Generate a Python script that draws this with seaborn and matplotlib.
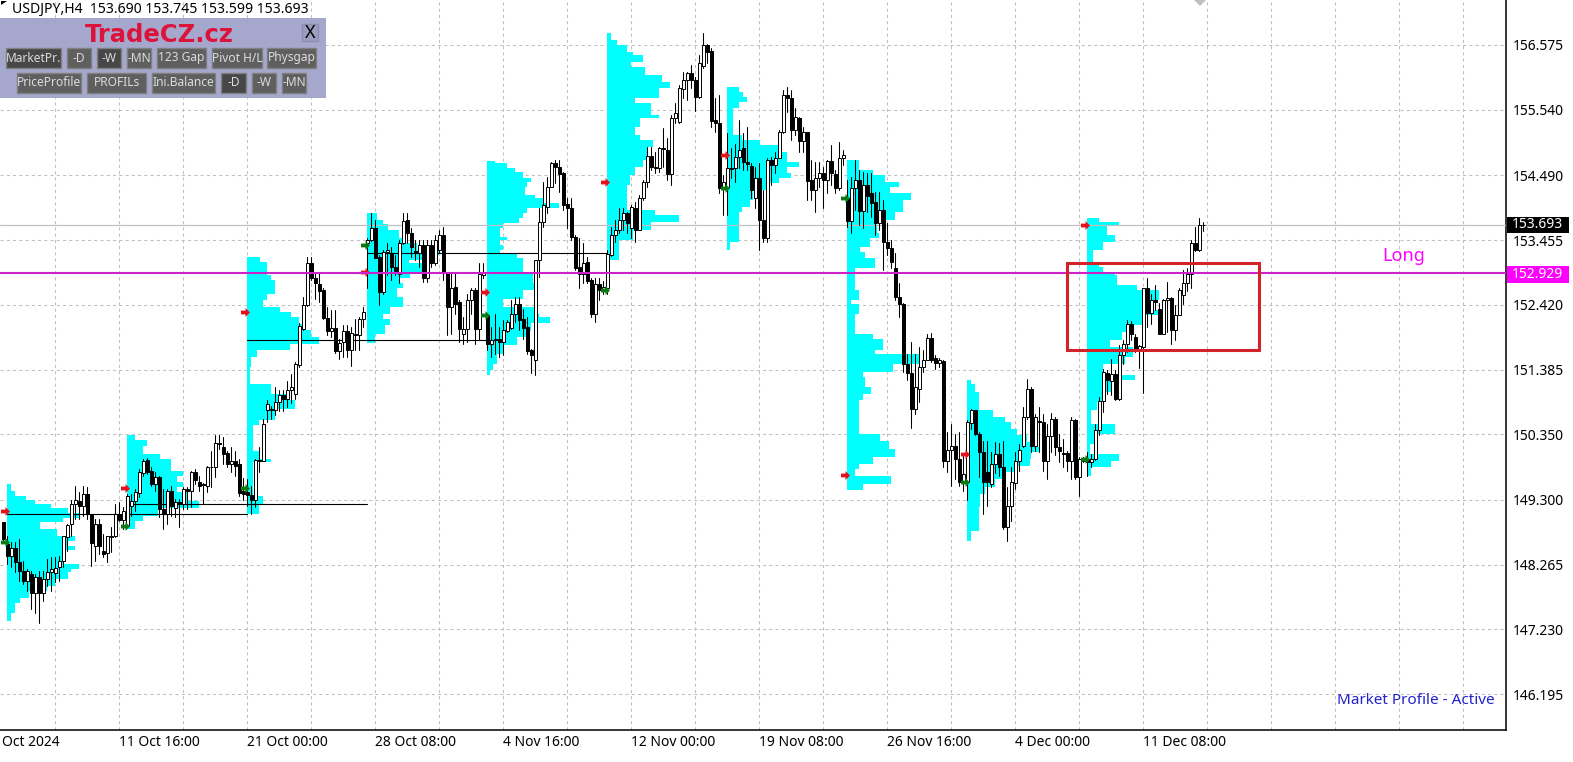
# USDJPY H4 chart with market profile blocks
import matplotlib
matplotlib.use("Agg")
import matplotlib.pyplot as plt
from matplotlib.patches import Rectangle, Polygon
import numpy as np
import pandas as pd
import seaborn as sns

# =======================
# candles, one entry per H4 bar
# =======================
opens = [
    148.94, 148.60, 148.41, 148.53, 148.30, 148.17, 148.00, 148.12, 147.81, 148.07,
    147.82, 148.04, 148.14, 148.13, 148.22, 148.33, 148.70, 148.91, 149.24, 149.29,
    149.21, 149.40, 149.07, 148.57, 148.92, 148.48, 148.45, 148.72, 148.73, 149.07,
    148.98, 148.89, 149.21, 149.28, 149.41, 149.73, 149.94, 149.76, 149.56, 149.67,
    149.16, 149.07, 149.45, 149.17, 149.26, 149.24, 149.47, 149.45, 149.75, 149.58,
    149.55, 149.53, 149.83, 149.82, 150.21, 150.15, 150.05, 149.88, 149.93, 149.87,
    149.45, 149.42, 149.38, 149.30, 149.94, 149.93, 150.73, 150.76, 150.73, 150.87,
    150.98, 150.92, 151.06, 151.00, 151.45, 152.04, 152.41, 153.09, 152.85, 152.75,
    152.65, 152.21, 152.00, 152.05, 151.68, 151.82, 152.00, 151.70, 151.96, 151.93,
    152.20, 153.40, 153.45, 153.65, 153.19, 152.62, 153.26, 153.25, 153.03, 152.91,
    153.40, 153.77, 153.56, 153.28, 153.25, 153.37, 152.85, 153.37, 153.08, 153.29,
    153.53, 152.92, 152.39, 152.71, 152.46, 151.96, 152.04, 152.49, 152.65, 152.04,
    152.90, 152.25, 151.80, 151.85, 151.88, 151.82, 152.00, 152.05, 152.28, 152.43,
    152.20, 152.06, 151.69, 151.54, 153.13, 153.74, 153.99, 154.30, 154.69, 154.62,
    154.53, 154.03, 153.96, 153.51, 153.02, 152.91, 153.10, 152.81, 152.28, 152.75,
    152.66, 152.68, 153.21, 153.53, 153.62, 153.77, 153.88, 153.64, 153.96, 153.61,
    154.12, 154.39, 154.80, 154.62, 154.61, 154.92, 154.90, 154.51, 155.41, 155.34,
    155.87, 156.02, 156.12, 156.02, 155.74, 156.24, 156.57, 156.48, 155.37, 155.33,
    154.29, 154.30, 154.60, 154.60, 154.78, 154.92, 154.70, 154.64, 154.12, 154.44,
    153.77, 153.48, 154.73, 154.65, 154.77, 155.18, 155.77, 155.73, 155.21, 155.40,
    155.04, 155.18, 154.41, 154.25, 154.45, 154.52, 154.41, 154.72, 154.51, 154.28,
    154.76, 154.12, 153.76, 154.28, 154.42, 153.92, 154.33, 154.20, 154.07, 153.72,
    153.93, 153.42, 153.33, 153.00, 152.55, 152.44, 151.48, 151.33, 150.76, 151.07,
    151.43, 151.54, 151.89, 151.57, 151.49, 151.52, 149.93, 150.10, 150.16, 149.96,
    149.59, 149.59, 150.53, 150.73, 150.35, 150.07, 149.75, 149.55, 149.88, 150.03,
    149.83, 148.86, 149.20, 149.57, 149.92, 150.17, 150.62, 151.08, 150.16, 150.56,
    150.54, 149.92, 150.32, 150.60, 150.15, 150.05, 150.05, 149.93, 150.57, 149.66,
    149.92, 149.95, 149.91, 149.96, 150.42, 150.88, 151.33, 151.20, 151.32, 150.92,
    151.61, 151.79, 152.12, 151.90, 151.72, 151.75, 152.68, 152.29, 152.50, 152.36,
    151.96, 152.50, 152.53, 152.02, 152.25, 152.58, 152.77, 152.91, 153.41, 153.29,
    153.690,
]
highs = [
    148.95, 148.73, 148.62, 148.62, 148.68, 148.33, 148.20, 148.17, 148.12, 148.17,
    148.17, 148.36, 148.38, 148.38, 148.41, 148.73, 148.92, 149.30, 149.53, 149.42,
    149.53, 149.50, 149.08, 149.00, 149.00, 148.76, 148.73, 148.86, 149.24, 149.26,
    149.18, 149.39, 149.40, 149.48, 149.80, 149.96, 149.97, 149.82, 149.74, 149.69,
    149.48, 149.48, 149.53, 149.32, 149.32, 149.50, 149.50, 149.77, 149.80, 149.69,
    149.57, 149.85, 150.09, 150.33, 150.33, 150.31, 150.09, 150.14, 150.09, 149.96,
    149.65, 149.63, 149.53, 149.96, 150.14, 150.60, 150.90, 150.80, 151.10, 151.05,
    151.05, 151.20, 151.32, 151.50, 152.13, 152.54, 153.19, 153.19, 152.94, 152.92,
    152.68, 152.39, 152.33, 152.33, 151.88, 152.09, 152.09, 152.06, 152.20, 152.22,
    152.38, 153.49, 153.88, 153.78, 153.21, 153.29, 153.40, 153.34, 153.21, 153.45,
    153.88, 153.88, 153.64, 153.46, 153.46, 153.45, 153.45, 153.45, 153.53, 153.61,
    153.66, 152.94, 152.94, 152.92, 152.49, 152.22, 152.60, 152.69, 152.68, 153.08,
    153.08, 152.28, 152.06, 152.28, 152.06, 152.17, 152.17, 152.49, 152.54, 152.54,
    152.36, 152.22, 151.72, 153.13, 153.96, 154.38, 154.46, 154.70, 154.73, 154.73,
    154.54, 154.12, 154.12, 153.53, 153.48, 153.40, 153.18, 152.84, 152.84, 152.84,
    152.80, 153.29, 153.66, 153.77, 153.96, 153.96, 153.90, 154.01, 154.06, 154.17,
    154.41, 154.94, 154.94, 154.86, 154.94, 155.24, 155.08, 155.45, 155.64, 155.93,
    156.14, 156.14, 156.25, 156.06, 156.41, 156.76, 156.59, 156.52, 155.72, 155.77,
    154.49, 155.16, 154.93, 154.99, 155.37, 155.16, 155.26, 154.68, 154.62, 154.68,
    154.25, 154.76, 154.78, 154.86, 155.21, 155.86, 155.90, 155.85, 155.56, 155.42,
    155.26, 155.18, 154.73, 154.70, 154.70, 154.62, 154.73, 154.97, 154.57, 155.02,
    154.90, 154.41, 154.46, 154.73, 154.57, 154.54, 154.52, 154.52, 154.22, 154.22,
    154.09, 153.72, 153.45, 153.24, 152.76, 152.45, 151.63, 151.82, 151.63, 151.75,
    151.69, 151.96, 151.97, 151.61, 151.57, 151.53, 150.39, 150.52, 150.36, 150.39,
    150.04, 150.57, 150.76, 150.74, 150.39, 150.25, 150.25, 150.07, 150.23, 150.21,
    150.25, 149.51, 149.83, 150.07, 150.19, 150.78, 151.24, 151.10, 150.68, 150.79,
    150.68, 150.52, 150.69, 150.63, 150.36, 150.28, 150.09, 150.62, 150.60, 149.98,
    149.98, 150.07, 150.04, 150.52, 150.95, 151.40, 151.37, 151.56, 151.37, 151.77,
    151.85, 152.18, 152.16, 151.96, 151.77, 152.69, 152.85, 152.60, 152.73, 152.45,
    152.52, 152.78, 152.55, 152.41, 152.69, 152.97, 153.00, 153.45, 153.67, 153.80,
    153.745,
]
lows = [
    148.65, 148.28, 148.22, 148.14, 148.01, 147.96, 147.85, 147.56, 147.50, 147.33,
    147.69, 147.93, 147.85, 147.98, 148.01, 148.22, 148.49, 148.73, 149.00, 149.00,
    149.05, 149.00, 148.25, 148.33, 148.44, 148.38, 148.30, 148.46, 148.70, 148.97,
    148.84, 148.88, 149.05, 149.13, 149.34, 149.69, 149.72, 149.53, 149.45, 149.02,
    148.84, 148.92, 149.05, 149.02, 148.86, 149.16, 149.16, 149.18, 149.56, 149.45,
    149.24, 149.42, 149.50, 149.66, 150.12, 149.88, 149.82, 149.74, 149.69, 149.37,
    149.30, 149.21, 149.08, 149.18, 149.74, 149.92, 150.55, 150.60, 150.65, 150.72,
    150.72, 150.78, 150.85, 150.92, 151.43, 152.01, 152.40, 152.81, 152.52, 152.46,
    152.20, 151.93, 151.90, 151.65, 151.56, 151.59, 151.59, 151.44, 151.69, 151.69,
    152.06, 152.68, 153.44, 153.16, 152.41, 152.60, 152.89, 152.81, 152.89, 152.76,
    153.39, 153.40, 153.18, 153.13, 153.02, 152.78, 152.78, 153.02, 153.05, 153.26,
    152.81, 151.93, 151.96, 152.28, 151.82, 151.80, 151.82, 152.28, 151.80, 151.85,
    152.84, 151.69, 151.59, 151.64, 151.59, 151.61, 151.98, 152.04, 152.14, 152.02,
    151.88, 151.64, 151.33, 151.29, 152.86, 153.66, 153.88, 154.30, 154.36, 154.22,
    153.93, 153.64, 153.45, 152.97, 152.69, 152.76, 152.76, 152.22, 152.14, 152.50,
    152.60, 152.60, 153.20, 153.42, 153.56, 153.61, 153.56, 153.48, 153.43, 153.61,
    154.09, 154.30, 154.57, 154.52, 154.54, 154.62, 154.41, 154.33, 155.32, 155.33,
    155.72, 155.70, 155.88, 155.52, 155.72, 156.20, 156.28, 155.26, 155.18, 154.20,
    153.85, 153.85, 154.44, 154.38, 154.60, 154.57, 154.57, 154.12, 153.96, 153.29,
    153.43, 153.43, 154.33, 154.52, 154.77, 155.17, 155.50, 155.05, 155.13, 154.86,
    154.86, 154.09, 154.09, 153.90, 154.30, 153.96, 154.20, 154.33, 154.20, 154.25,
    154.65, 153.66, 153.56, 153.93, 153.69, 153.64, 153.90, 153.83, 153.53, 153.61,
    152.97, 153.21, 153.01, 152.49, 152.23, 151.35, 151.22, 150.45, 150.68, 150.87,
    151.35, 151.53, 151.51, 151.40, 151.43, 149.83, 149.75, 149.52, 149.64, 149.53,
    149.45, 149.30, 150.44, 150.33, 149.67, 149.08, 149.21, 149.50, 149.73, 149.69,
    148.84, 148.64, 148.96, 149.48, 149.77, 150.15, 150.60, 150.07, 150.09, 150.07,
    149.77, 149.64, 150.07, 150.02, 149.91, 149.83, 149.77, 149.64, 149.64, 149.36,
    149.90, 149.69, 149.83, 149.94, 150.33, 150.71, 151.00, 150.97, 150.89, 150.89,
    151.48, 151.66, 151.85, 151.66, 151.41, 151.01, 152.06, 152.12, 152.33, 151.95,
    151.95, 151.98, 151.79, 151.86, 152.25, 152.44, 152.64, 152.68, 153.28, 153.28,
    153.599,
]
closes = [
    148.68, 148.41, 148.53, 148.30, 148.16, 148.00, 148.17, 147.81, 148.07, 147.82,
    148.04, 148.14, 148.19, 148.21, 148.32, 148.72, 148.90, 149.24, 149.30, 149.20,
    149.40, 149.07, 148.61, 148.92, 148.56, 148.44, 148.72, 148.70, 149.07, 148.98,
    149.13, 149.37, 149.28, 149.42, 149.74, 149.93, 149.74, 149.56, 149.66, 149.16,
    149.08, 149.45, 149.20, 149.26, 149.24, 149.48, 149.45, 149.75, 149.62, 149.53,
    149.54, 149.83, 149.82, 150.21, 150.20, 150.04, 149.88, 149.92, 149.85, 149.41,
    149.40, 149.38, 149.30, 149.94, 149.93, 150.52, 150.84, 150.73, 150.87, 150.98,
    150.92, 151.06, 151.10, 151.48, 152.08, 152.42, 153.08, 152.85, 152.76, 152.64,
    152.21, 152.00, 152.05, 151.68, 151.81, 152.00, 151.69, 151.97, 151.93, 152.20,
    152.30, 153.46, 153.65, 153.17, 152.62, 153.26, 153.30, 153.02, 152.96, 153.40,
    153.76, 153.56, 153.35, 153.25, 153.37, 152.85, 153.37, 153.08, 153.45, 153.53,
    152.94, 152.39, 152.69, 152.44, 152.04, 152.04, 152.49, 152.65, 152.04, 152.91,
    152.93, 151.80, 151.85, 151.88, 151.82, 152.02, 152.14, 152.28, 152.43, 152.17,
    152.05, 151.68, 151.61, 153.13, 153.74, 154.01, 154.30, 154.69, 154.62, 154.51,
    154.01, 153.96, 153.50, 153.01, 152.91, 153.09, 152.80, 152.27, 152.75, 152.66,
    152.70, 153.23, 153.53, 153.62, 153.78, 153.88, 153.73, 153.98, 153.62, 154.12,
    154.39, 154.80, 154.62, 154.60, 154.92, 154.91, 154.51, 155.41, 155.48, 155.88,
    156.02, 156.12, 156.01, 155.74, 156.28, 156.57, 156.46, 155.36, 155.33, 154.29,
    154.38, 154.60, 154.59, 154.78, 154.90, 154.70, 154.67, 154.25, 154.44, 153.77,
    153.48, 154.73, 154.65, 154.77, 155.18, 155.77, 155.73, 155.21, 155.42, 155.04,
    155.18, 154.40, 154.25, 154.45, 154.53, 154.41, 154.72, 154.52, 154.28, 154.76,
    154.81, 153.76, 154.28, 154.42, 153.92, 154.33, 154.16, 154.05, 153.72, 153.93,
    153.43, 153.33, 153.10, 152.54, 152.43, 151.48, 151.33, 150.76, 151.10, 151.43,
    151.54, 151.89, 151.54, 151.49, 151.54, 149.93, 150.10, 150.16, 149.96, 149.59,
    149.71, 150.55, 150.73, 150.35, 150.07, 149.59, 149.59, 149.88, 150.03, 149.82,
    148.86, 149.21, 149.59, 149.92, 150.10, 150.62, 151.08, 150.16, 150.62, 150.54,
    149.92, 150.32, 150.60, 150.14, 150.08, 150.03, 149.93, 150.57, 149.66, 149.96,
    149.96, 149.91, 149.96, 150.42, 150.88, 151.35, 151.21, 151.32, 150.92, 151.61,
    151.79, 152.12, 151.96, 151.72, 151.76, 152.68, 152.29, 152.50, 152.46, 151.96,
    152.50, 152.53, 152.02, 152.26, 152.65, 152.77, 152.91, 153.41, 153.29, 153.69,
    153.693,
]

# =======================
# market profile blocks: first bar, price edges, width of each band in bars
# =======================
profile_starts = [1, 31, 61, 91, 121, 151, 181, 211, 241, 271]

profile_1_edges = [149.55, 149.45, 149.37, 149.30, 149.24, 149.17, 149.09, 149.01, 148.94, 148.84, 148.73, 148.65,
                   148.57, 148.50, 148.41, 148.28, 148.20, 148.14, 148.04, 147.93, 147.85, 147.74, 147.66, 147.50, 147.36]
profile_1_widths = [0.8, 1.9, 4.7, 6.9, 11, 15.2, 18.2, 14, 8.2, 12.3, 16.9, 14.8, 16.9, 14, 14, 18, 16, 15.2, 11.9,
                    9.8, 5.3, 3.2, 1.9, 0.8]

profile_2_edges = [150.34, 150.26, 150.17, 150.04, 149.96, 149.88, 149.77, 149.69, 149.58, 149.50, 149.42, 149.29,
                   149.17, 149.05, 148.97, 148.84]
profile_2_widths = [1.9, 4.8, 4, 8.2, 11, 11, 14, 12.3, 14, 12.3, 14.8, 18, 7.7, 4, 1.9]

profile_3_edges = [153.18, 153.10, 152.89, 152.81, 152.69, 152.60, 152.49, 152.38, 152.30, 152.22, 152.12, 152.01,
                   151.90, 151.80, 151.69, 151.58, 151.42, 151.16, 151.00, 150.89, 150.76, 150.57, 150.49, 150.09,
                   149.96, 149.90, 149.37, 149.24, 149.08]
profile_3_widths = [3.2, 4.8, 5.8, 6.9, 6.9, 4.8, 4, 8.2, 11, 12.8, 14, 16, 18, 10.7, 2.3, 1, 0.7, 6, 10.3, 12, 7,
                    2.8, 1.5, 3.2, 5.8, 1.5, 4, 2.8]

profile_4_edges = [153.88, 153.78, 153.71, 153.61, 153.48, 153.40, 153.29, 153.21, 153.13, 153.08, 152.94, 152.84,
                   152.76, 152.68, 152.54, 152.39, 152.28, 152.20, 152.09, 151.96, 151.81]
profile_4_widths = [2.3, 4, 5.2, 7.8, 9, 12.3, 18, 13.6, 10.3, 15.7, 10.7, 8.2, 9, 7.3, 9, 5.7, 4, 5.7, 4.4, 1.9]

profile_5_edges = [154.72, 154.68, 154.60, 154.54, 154.45, 154.38, 154.30, 154.17, 154.12, 154.04, 153.96, 153.88,
                   153.80, 153.72, 153.64, 153.50, 153.45, 153.37, 153.29, 153.23, 153.17, 153.08, 152.94, 152.76,
                   152.65, 152.52, 152.38, 152.28, 152.22, 152.13, 152.00, 151.90, 151.77, 151.64, 151.48, 151.38,
                   151.29]
profile_5_widths = [1.9, 4.8, 6.9, 9, 10.8, 9.8, 9.4, 12, 14, 18, 9.8, 9, 7.8, 4, 3.2, 4.8, 3.2, 4, 3.2, 7.3, 8.8,
                    9, 11.5, 12, 9, 4, 12, 12.8, 15.7, 11, 9.8, 7.3, 4, 2.3, 1.5, 0.7]

profile_6_edges = [156.76, 156.65, 156.57, 156.46, 156.41, 156.30, 156.22, 156.09, 155.98, 155.88, 155.73, 155.64,
                   155.45, 155.40, 155.26, 155.13, 155.05, 154.94, 154.73, 154.62, 154.49, 154.33, 154.17, 153.93,
                   153.85, 153.75, 153.61, 153.45, 153.29, 153.13]
profile_6_widths = [0.8, 2.3, 4.8, 6.5, 8.8, 6, 9.4, 13.6, 15.7, 12.8, 7, 10.8, 12.8, 8.2, 7, 8.2, 11.5, 10, 9, 7,
                    5.7, 4.8, 4.8, 12, 17.8, 10.8, 6.5, 2.8, 2.8]

profile_7_edges = [155.90, 155.82, 155.74, 155.66, 155.56, 155.13, 155.05, 154.97, 154.86, 154.70, 154.62, 154.52,
                   154.44, 154.36, 154.25, 154.09, 153.98, 153.90, 153.66, 153.43, 153.29]
profile_7_widths = [2.8, 4, 4.8, 2.8, 1.5, 3.6, 8.2, 12.8, 14.8, 18, 14.8, 16, 13, 10.7, 6.5, 5.7, 3.6, 2.8, 2.8, 0.7]

profile_8_edges = [154.73, 154.57, 154.49, 154.38, 154.30, 154.20, 154.10, 153.90, 153.77, 153.56, 153.48, 153.34,
                   153.26, 153.16, 153.00, 152.84, 152.65, 152.49, 152.44, 152.28, 152.17, 151.96, 151.88, 151.69,
                   151.63, 151.48, 151.35, 151.27, 151.11, 151.00, 150.89, 150.63, 150.44, 150.36, 150.25, 150.12,
                   149.99, 149.88, 149.80, 149.69, 149.55, 149.46]
profile_8_widths = [2.8, 6.5, 9.4, 12.8, 10.7, 16, 14, 12, 7.3, 8, 5.7, 3.2, 4.4, 7, 2, 2, 3, 1, 2.8, 2, 2, 6.5, 9,
                    7, 17.8, 11.5, 4, 4.4, 5.8, 4, 3, 2.8, 2.8, 8.2, 10.3, 12, 6.5, 2.8, 2, 10.9, 4]

profile_9_edges = [151.22, 151.16, 151.03, 150.73, 150.63, 150.55, 150.44, 150.33, 150.23, 150.14, 150.07, 149.96,
                   149.85, 149.75, 149.64, 149.51, 149.40, 149.19, 149.00, 148.80, 148.65]
profile_9_widths = [1, 1.9, 2.8, 6.5, 9.4, 11, 12.3, 14.8, 16, 18, 16, 15.7, 11.9, 9.4, 6.9, 4.4, 3.2, 2.8, 2.8, 1]

profile_10_edges = [153.80, 153.74, 153.69, 153.53, 153.42, 153.29, 153.10, 153.02, 152.94, 152.89, 152.73, 152.65,
                    152.49, 152.33, 152.25, 152.09, 151.98, 151.85, 151.74, 151.58, 151.48, 151.29, 151.21, 151.02,
                    150.86, 150.73, 150.52, 150.36, 150.20, 150.04, 149.93, 149.83, 149.69]
profile_10_widths = [2.8, 7.8, 4.8, 6.9, 4, 1.5, 2.8, 4, 6.9, 7.3, 12.3, 17.8, 15.7, 18, 13.6, 9.8, 8.6, 5.7, 11.5,
                     9.4, 4, 11.9, 6, 4.4, 2.3, 1, 6.9, 1.9, 0.7, 7.8, 6, 1]

profile_edges = [profile_1_edges, profile_2_edges, profile_3_edges, profile_4_edges, profile_5_edges,
                 profile_6_edges, profile_7_edges, profile_8_edges, profile_9_edges, profile_10_edges]
profile_widths = [profile_1_widths, profile_2_widths, profile_3_widths, profile_4_widths, profile_5_widths,
                  profile_6_widths, profile_7_widths, profile_8_widths, profile_9_widths, profile_10_widths]

# black point of control lines: from bar, to bar, price
poc_from = [1, 31, 61, 91]
poc_to = [61, 91, 121, 151]
poc_price = [149.08, 149.24, 151.85, 153.25]

# small arrows on the session opens
red_bars = [0.3, 30.4, 60.3, 90.4, 120.4, 150.4, 180.4, 210.4, 240.4, 270.4]
red_prices = [149.13, 149.49, 152.31, 152.94, 152.63, 154.39, 154.81, 149.70, 150.04, 153.70]
green_bars = [0.3, 30.4, 60.4, 90.4, 120.4, 150.4, 180.4, 210.4, 240.4, 270.4]
green_prices = [148.63, 148.88, 149.49, 153.38, 152.26, 152.66, 154.28, 154.13, 149.58, 149.96]

price_ticks = [156.575, 155.540, 154.490, 153.455, 152.420, 151.385, 150.350, 149.300, 148.265, 147.230, 146.195]
date_ticks = [29, 61, 93, 125, 157, 189, 221, 253, 285]
date_labels = ["11 Oct 16:00", "21 Oct 00:00", "28 Oct 08:00", "4 Nov 16:00", "12 Nov 00:00",
               "19 Nov 08:00", "26 Nov 16:00", "4 Dec 00:00", "11 Dec 08:00"]
grid_bars = [13, 45, 77, 109, 141, 173, 205, 237, 269, 301, 317, 333, 349, 365]

last_price = 153.693
long_level = 152.929
box_from, box_to = 265.9, 314.0
box_low, box_high = 151.70, 153.08

# panel buttons: label, left px, right px, top px, pressed
button_labels = ["MarketPr.", "-D", "-W", "-MN", "123 Gap", "Pivot H/L", "Physgap",
                 "PriceProfile", "PROFILs", "Ini.Balance", "-D", "-W", "-MN"]
button_left = [6, 67, 97, 127, 157, 212, 267, 17, 87, 152, 221, 252, 282]
button_right = [61, 91, 121, 151, 206, 262, 316, 81, 146, 215, 246, 276, 306]
button_top = [48, 48, 48, 48, 48, 48, 48, 73, 73, 73, 73, 73, 73]
button_pressed = [1, 0, 1, 0, 0, 0, 0, 0, 0, 0, 1, 0, 0]

# =======================
# figure
# =======================
W, H = 1573, 762
FONT = "Noto Sans"
sns.set_theme(style="white")
plt.rcParams["font.family"] = [FONT, "DejaVu Sans"]

fig = plt.figure(figsize=(W / 100, H / 100), dpi=100, facecolor="white")
ax = fig.add_axes([0, (H - 729.5) / H, 1505.5 / W, 729.5 / H])
ax.set_xlim(-0.825, 375.55)
ax.set_ylim(145.63, 157.292)

ax.set_axisbelow(True)
ax.set_yticks(price_ticks)
ax.set_yticklabels([f"{p:.3f}" for p in price_ticks])
ax.set_xticks(date_ticks)
ax.set_xticklabels(date_labels, ha="left")
ax.set_xticks(grid_bars, minor=True)
ax.yaxis.tick_right()
ax.tick_params(axis="both", which="major", length=3, width=0.8, color="black", labelsize=10, labelcolor="black")
ax.tick_params(axis="x", which="major", pad=0.7)
ax.tick_params(axis="y", which="major", pad=2.5)
ax.tick_params(axis="x", which="minor", length=0)
ax.grid(True, which="both", color="#c0c0c0", linestyle=(0, (3, 3)), linewidth=0.75)
sns.despine(ax=ax, top=True, left=True, right=False, bottom=False)
for side in ["right", "bottom"]:
    ax.spines[side].set_color("black")
    ax.spines[side].set_linewidth(1.1)

# profiles sit on top of the grid, under the candles
for start, edges, widths in zip(profile_starts, profile_edges, profile_widths):
    right = np.array(list(widths) + [widths[-1]]) + start
    ax.fill_betweenx(edges, start, right, step="post", color="#00ffff", linewidth=0, zorder=2)

for a, b, p in zip(poc_from, poc_to, poc_price):
    ax.plot([a, b], [p, p], color="black", linewidth=0.8, zorder=3)

ax.axhline(last_price, color="#c0c0c0", linewidth=0.9, zorder=3)

# candles: wicks through seaborn, bodies as bars
bars = np.arange(len(closes))
wicks = pd.DataFrame({
    "bar": np.concatenate([bars, bars]),
    "price": highs + lows,
})
sns.lineplot(data=wicks, x="bar", y="price", units="bar", estimator=None, color="black",
             linewidth=0.75, legend=False, ax=ax, zorder=4)
ax.set_xlabel("")
ax.set_ylabel("")

opens_arr = np.array(opens)
closes_arr = np.array(closes)
up = closes_arr >= opens_arr
bottoms = np.minimum(opens_arr, closes_arr)
heights = np.abs(closes_arr - opens_arr)
ax.bar(bars[up], heights[up], bottom=bottoms[up], width=0.62, color="white", edgecolor="black", linewidth=0.7, zorder=5)
ax.bar(bars[~up], heights[~up], bottom=bottoms[~up], width=0.62, color="black", edgecolor="black", linewidth=0.7, zorder=5)

arrow = [(-1, -0.42), (0, -0.42), (0, -1), (1, 0), (0, 1), (0, 0.42), (-1, 0.42)]
sns.scatterplot(x=red_bars, y=red_prices, marker=arrow, color="#e8101c", s=42, linewidth=0, ax=ax, zorder=6)
sns.scatterplot(x=green_bars, y=green_prices, marker=arrow, color="#0a7a14", s=42, linewidth=0, ax=ax, zorder=6)

ax.axhline(long_level, color="#cc22cc", linewidth=1.5, zorder=7)
ax.add_patch(Rectangle((box_from, box_low), box_to - box_from, box_high - box_low, fill=False,
                       edgecolor="#d2232a", linewidth=2.2, zorder=8))
ax.text(350, 153.2, "Long", color="#ff00ff", fontsize=13, ha="center", va="center", zorder=8)


def fx(px):
    return px / W


def fy(py):
    return 1 - py / H


def box(x0, y0, x1, y1, **kw):
    fig.add_artist(Rectangle((fx(x0), fy(y1)), fx(x1 - x0), (y1 - y0) / H, transform=fig.transFigure, **kw))


def label(px, py, s, **kw):
    kw.setdefault("va", "center")
    fig.text(fx(px), fy(py), s, **kw)


# price tags on the right axis
box(1507, 217, 1569, 233, facecolor="black", edgecolor="none", zorder=9)
label(1512, 225, f"{last_price:.3f}", color="white", fontsize=10, zorder=10)
box(1507, 266, 1569, 283, facecolor="#ff00ff", edgecolor="none", zorder=9)
label(1512, 274.5, f"{long_level:.3f}", color="white", fontsize=10, zorder=10)

label(2, 742, "Oct 2024", color="black", fontsize=10)
label(1495, 700, "Market Profile - Active", color="#2222cc", fontsize=11, ha="right", zorder=9)
label(12, 9, "USDJPY,H4  153.690 153.745 153.599 153.693", color="black", fontsize=10.1, zorder=11)
fig.add_artist(Polygon([(fx(1), fy(5)), (fx(7), fy(1)), (fx(1), fy(1))], closed=True, facecolor="black",
                       edgecolor="none", transform=fig.transFigure, zorder=11))
fig.add_artist(Polygon([(fx(1194), 1), (fx(1206), 1), (fx(1200), fy(6))], closed=True, facecolor="#c0c0c0",
                       edgecolor="none", transform=fig.transFigure, zorder=9))

# control panel
box(0, 18, 326, 98, facecolor="#a5a8cc", edgecolor="none", zorder=10)
label(159, 34.5, "TradeCZ.cz", color="#dc143c", fontsize=17.5, fontweight="bold", ha="center", zorder=11,
      family="DejaVu Sans")
box(302, 24, 318, 41, facecolor="#9a9dc0", edgecolor="#8a8db0", linewidth=1, zorder=11)
label(310, 32.5, "X", color="black", fontsize=13, ha="center", zorder=12)
for text, x0, x1, top, pressed in zip(button_labels, button_left, button_right, button_top, button_pressed):
    fill = "#474747" if pressed else "#5f5f5f"
    box(x0, top, x1, top + 20, facecolor=fill, edgecolor="#808080", linewidth=1, zorder=11)
    label((x0 + x1) / 2, top + 10, text, color="#dcdcdc", fontsize=8.6, ha="center", zorder=12)

fig.savefig("out.png", dpi=100, facecolor="white")
plt.close(fig)
